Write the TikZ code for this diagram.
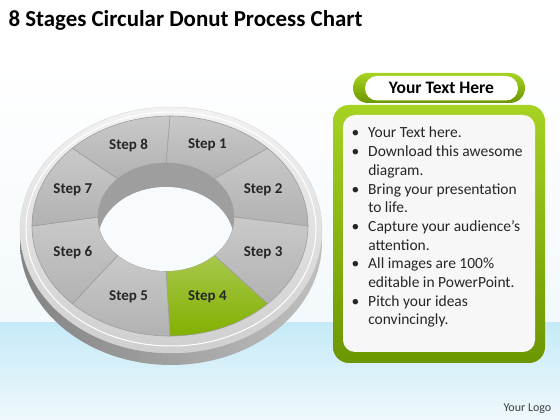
\documentclass[tikz,border=0pt]{standalone}
\usepackage{fontspec}
\setmainfont{Carlito}
\definecolor{fondoA}{HTML}{F3F9FC}
\definecolor{fondoB}{HTML}{C6EAF8}
\definecolor{fondoC}{HTML}{EEF8FC}
\definecolor{grisA}{HTML}{D6D6D6}
\definecolor{grisB}{HTML}{B2B2B2}
\definecolor{grisL}{HTML}{9E9E9E}
\definecolor{aro}{HTML}{E6E6E6}
\definecolor{costado}{HTML}{A4A4A4}
\definecolor{verdeB}{HTML}{82B000}
\definecolor{verdeC}{HTML}{A6D322}
\definecolor{verdeO}{HTML}{6C9600}
\begin{document}
\begin{tikzpicture}[x=1pt,y=1pt,
    paso/.style={font=\fontsize{15}{18}\selectfont\bfseries, text=black!85},
    texto/.style={font=\fontsize{15.5}{18.7}\selectfont, text=black!85}]
    % Fondo
    \useasboundingbox (0,0) rectangle (560,420);
    \fill[white] (0,0) rectangle (560,420);
    \shade[top color=white, bottom color=fondoA] (0,97) rectangle (560,360);
    \shade[top color=fondoB, bottom color=fondoC] (0,0) rectangle (560,97);

    % Titulo
    \node[anchor=base west, font=\fontsize{22.9}{27}\selectfont\bfseries] (titulo) at (5,393) {8 Stages Circular Donut Process Chart};

    % Costado y aro exterior
    \shade[left color=costado!80!black, right color=costado!70] (171,178) ellipse [x radius=151pt, y radius=123pt];
    \shade[top color=white!95!black, bottom color=aro!90!black, draw=grisA] (171,190) ellipse [x radius=151pt, y radius=123pt];
    \draw[white, line width=1pt] (171,191) ellipse [x radius=145pt, y radius=117pt];

    % Sectores
    \foreach \i/\c in {1/grisB,2/grisB,3/grisB,4/verdeB,5/grisB,6/grisB,7/grisB,8/grisB}{
        \pgfmathsetmacro\a{90-45*(\i-1)}
        \pgfmathsetmacro\b{90-45*\i}
        \shade[top color=\c!70!white, bottom color=\c, draw=grisL, line width=0.6pt]
            ({170+138*cos(\a)},{194+110*sin(\a)})
            arc [start angle=\a, end angle=\b, x radius=138pt, y radius=110pt]
            -- ({166+68*cos(\b)},{203+54*sin(\b)})
            arc [start angle=\b, end angle=\a, x radius=68pt, y radius=54pt] -- cycle;
    }

    % Hueco central
    \shade[left color=grisL, middle color=grisA, right color=grisL] (166,203) ellipse [x radius=68pt, y radius=54pt];
    \begin{scope}
        \clip (166,203) ellipse [x radius=68pt, y radius=54pt];
        \fill[fondoA!60] (166,179) ellipse [x radius=68pt, y radius=54pt];
    \end{scope}

    % Etiquetas
    \foreach \i in {1,...,8}{
        \pgfmathsetmacro\m{67.5-45*(\i-1)}
        \node[paso] (s\i) at ({168+103*cos(\m)},{199+82*sin(\m)}) {Step \i};
    }

    % Recuadro de texto
    \shade[top color=verdeC, bottom color=verdeO, rounded corners=16pt] (333,57) rectangle (545,315);
    \fill[white!97!black, rounded corners=12pt] (343,68) rectangle (535,305);
    \node[texto, anchor=base west] (lista) at (348,282) {\begin{tabular}[t]{@{}l@{\hspace{9pt}}l@{}}
        \textbullet & Your Text here.\\
        \textbullet & Download this awesome\\
                    & diagram.\\
        \textbullet & Bring your presentation\\
                    & to life.\\
        \textbullet & Capture your audience’s\\
                    & attention.\\
        \textbullet & All images are 100\%\\
                    & editable in PowerPoint.\\
        \textbullet & Pitch your ideas\\
                    & convincingly.
    \end{tabular}};

    % Encabezado
    \shade[top color=verdeC, bottom color=verdeO, rounded corners=15pt] (353,317) rectangle (525,347);
    \fill[white, rounded corners=12pt] (365,319.5) rectangle (518,344);
    \node[font=\fontsize{17.5}{21}\selectfont\bfseries] (encabezado) at (441.5,332) {Your Text Here};

    % Logo
    \node[anchor=base west, font=\fontsize{12}{14}\selectfont, text=black!75] (logo) at (500,8) {Your Logo};
\end{tikzpicture}
\end{document}
